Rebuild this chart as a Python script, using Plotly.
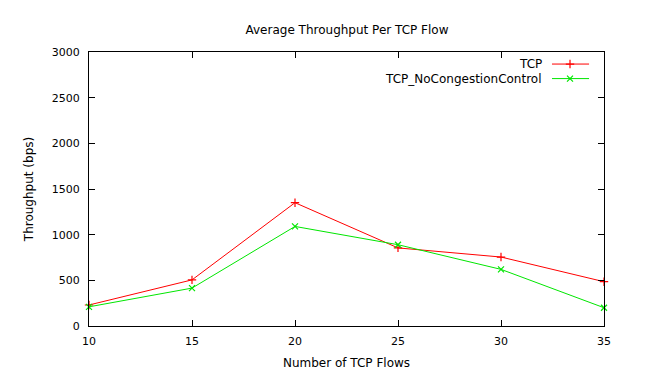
import plotly.graph_objects as go

flows = [10, 15, 20, 25, 30, 35]
tcp = [230, 505, 1350, 855, 755, 485]
tcp_nocc = [210, 415, 1090, 890, 620, 200]
y_ticks = [0, 500, 1000, 1500, 2000, 2500, 3000]
x_ticks = [10, 15, 20, 25, 30, 35]
names = ["TCP", "TCP_NoCongestionControl"]
colors = ["#ff0000", "#00e600"]
symbols = ["cross-thin-open", "x-thin-open"]

FONT = "DejaVu Sans"
TXT = dict(family=FONT, size=12, color="black")

fig = go.Figure()
for name, vals, c, s in zip(names, [tcp, tcp_nocc], colors, symbols):
    fig.add_trace(go.Scatter(
        x=flows, y=vals, mode="lines+markers", name=name,
        line=dict(color=c, width=1),
        marker=dict(symbol=s, size=6, line=dict(color=c, width=1.2), color=c),
        showlegend=False, cliponaxis=False,
    ))

# custom gnuplot-style legend (text right, sample on the right)
leg_rows = [0.956, 0.903]
for name, c, s, yy in zip(names, colors, symbols, leg_rows):
    fig.add_trace(go.Scatter(
        x=[0.899, 0.934, 0.971], y=[yy, yy, yy], xaxis="x2", yaxis="y2",
        mode="lines", line=dict(color=c, width=1), showlegend=False, hoverinfo="skip",
    ))
    fig.add_trace(go.Scatter(
        x=[0.934], y=[yy], xaxis="x2", yaxis="y2", mode="markers",
        marker=dict(symbol=s, size=6, line=dict(color=c, width=1.2), color=c),
        showlegend=False, hoverinfo="skip",
    ))
    fig.add_annotation(x=0.8835, y=yy, xref="paper", yref="paper", text=name,
                       showarrow=False, xanchor="right", yanchor="middle", font=TXT)

axis_common = dict(showline=True, linecolor="black", linewidth=1, mirror="ticks",
                   ticks="inside", ticklen=6, tickcolor="black", tickwidth=1,
                   showgrid=False, zeroline=False,
                   tickfont=dict(family=FONT, size=11, color="black"))

fig.update_layout(
    width=648, height=380,
    margin=dict(l=89, r=44, t=52, b=51),
    paper_bgcolor="white", plot_bgcolor="white",
    title=dict(text="Average Throughput Per TCP Flow", x=347 / 648, xanchor="center",
               y=1 - 30 / 380, yanchor="middle", font=TXT),
    xaxis=dict(range=[10, 35], tickvals=x_ticks, ticklabelstandoff=5, **axis_common,
               title=dict(text="Number of TCP Flows", standoff=11, font=TXT)),
    yaxis=dict(range=[0, 3000], tickvals=y_ticks, ticklabelstandoff=6, **axis_common,
               title=dict(text="Throughput (bps)", standoff=15, font=TXT)),
    xaxis2=dict(range=[0, 1], overlaying="x", visible=False, fixedrange=True),
    yaxis2=dict(range=[0, 1], overlaying="y", visible=False, fixedrange=True),
)

fig.write_html("out.html", config={"displayModeBar": False},
               post_script="document.body.style.margin='0';document.body.style.padding='0';")
